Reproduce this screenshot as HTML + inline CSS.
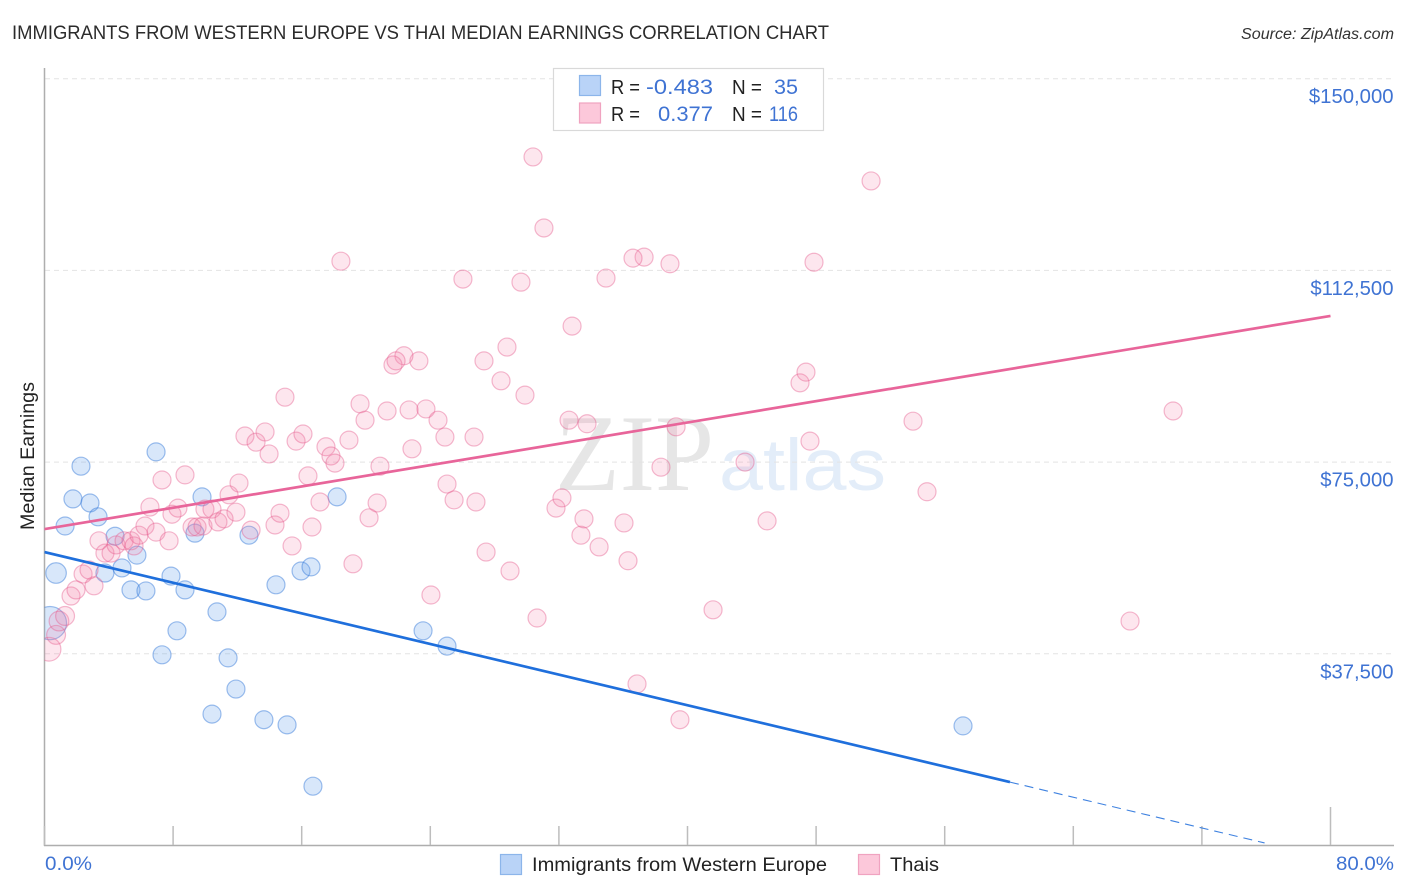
<!DOCTYPE html>
<html>
<head>
<meta charset="utf-8">
<title>Immigrants from Western Europe vs Thai Median Earnings Correlation Chart</title>
<style>
html,body{margin:0;padding:0;background:#fff;width:1406px;height:892px;overflow:hidden}
svg{display:block}
text{font-family:"Liberation Sans",sans-serif}
</style>
</head>
<body>
<svg id="chart" width="1406" height="892" viewBox="0 0 1406 892" xmlns="http://www.w3.org/2000/svg">
  <defs>
    <clipPath id="plotClip"><rect x="44.5" y="60" width="1360" height="786"/></clipPath>
  </defs>
  <text x="12" y="39" font-size="19.5" fill="#2b2b2b" textLength="817" lengthAdjust="spacingAndGlyphs">IMMIGRANTS FROM WESTERN EUROPE VS THAI MEDIAN EARNINGS CORRELATION CHART</text>
  <text x="1394" y="39" font-size="15.5" font-style="italic" fill="#333" text-anchor="end" textLength="153" lengthAdjust="spacingAndGlyphs">Source: ZipAtlas.com</text>

  <g>
    <text x="555" y="490" style="font-family:'Liberation Serif',serif" font-size="109" fill="#e6e6e6" textLength="159" lengthAdjust="spacingAndGlyphs">ZIP</text>
    <text x="719" y="490" font-size="73" fill="#e3edf9" textLength="167" lengthAdjust="spacingAndGlyphs">atlas</text>
  </g>

  <g id="grid"></g>
  <g id="axes">
    <line x1="44.5" y1="68" x2="44.5" y2="846" stroke="#aeaeae" stroke-width="1.5"/>
    <line x1="44" y1="845.5" x2="1394" y2="845.5" stroke="#aeaeae" stroke-width="1.5"/>
  </g>
  <g id="xticks"></g>
  <g id="ylabels"></g>
  <text x="45" y="870" font-size="19.5" fill="#3f73d3" textLength="47" lengthAdjust="spacingAndGlyphs">0.0%</text>
  <text x="1394" y="870" font-size="19.5" fill="#3f73d3" text-anchor="end" textLength="58" lengthAdjust="spacingAndGlyphs">80.0%</text>
  <text transform="translate(34,456) rotate(-90)" font-size="19.5" fill="#222" text-anchor="middle" textLength="148" lengthAdjust="spacingAndGlyphs">Median Earnings</text>

  <g clip-path="url(#plotClip)">
    <g id="bluePoints"></g>
    <g id="pinkPoints"></g>
    <g id="trends"></g>
  </g>

  <g>
    <rect x="553.5" y="68.5" width="270" height="62" fill="#fff" stroke="#d9d9d9" stroke-width="1.2"/>
    <rect x="579.5" y="75.5" width="21" height="20" fill="#b9d3f7" stroke="#8cb5ea" stroke-width="1.2"/>
    <rect x="579.5" y="103" width="21" height="20" fill="#fcc8da" stroke="#f0a3c0" stroke-width="1.2"/>
    <text x="611" y="94" font-size="20" fill="#222" textLength="29" lengthAdjust="spacingAndGlyphs">R =</text>
    <text x="646" y="94" font-size="21.5" fill="#3f73d3" textLength="67" lengthAdjust="spacingAndGlyphs">-0.483</text>
    <text x="732" y="94" font-size="20" fill="#222" textLength="30" lengthAdjust="spacingAndGlyphs">N =</text>
    <text x="774" y="94" font-size="21.5" fill="#3f73d3" textLength="24" lengthAdjust="spacingAndGlyphs">35</text>
    <text x="611" y="121" font-size="20" fill="#222" textLength="29" lengthAdjust="spacingAndGlyphs">R =</text>
    <text x="658" y="121" font-size="21.5" fill="#3f73d3" textLength="55" lengthAdjust="spacingAndGlyphs">0.377</text>
    <text x="732" y="121" font-size="20" fill="#222" textLength="30" lengthAdjust="spacingAndGlyphs">N =</text>
    <text x="769" y="121" font-size="21.5" fill="#3f73d3" textLength="29" lengthAdjust="spacingAndGlyphs">116</text>
  </g>

  <g>
    <rect x="500.5" y="854.5" width="21" height="20" fill="#b9d3f7" stroke="#8cb5ea" stroke-width="1.2"/>
    <text x="532" y="871" font-size="19.5" fill="#222" textLength="295" lengthAdjust="spacingAndGlyphs">Immigrants from Western Europe</text>
    <rect x="858.5" y="854.5" width="21" height="20" fill="#fcc8da" stroke="#f0a3c0" stroke-width="1.2"/>
    <text x="890" y="871" font-size="19.5" fill="#222" textLength="49" lengthAdjust="spacingAndGlyphs">Thais</text>
  </g>
</svg>
<script>
// percent of population on x, thousands of dollars on y
const yTickValues = [37.5, 75, 112.5, 150];
const yTickLabels = ["$37,500", "$75,000", "$112,500", "$150,000"];
const xTickValues = [0, 8, 16, 24, 32, 40, 48, 56, 64, 72, 80];

const blueX = [0.34,0.72,1.28,2.27,1.77,2.83,3.33,4.39,5.75,4.82,3.76,5.38,6.31,7.87,8.74,8.24,7.31,10.73,11.42,11.91,10.42,13.65,15.09,16.70,14.40,15.96,16.58,9.36,9.80,6.94,12.72,18.20,23.55,25.04,57.14];
const blueY = [43.5,53.3,62.5,74.2,67.8,67.0,64.3,60.5,56.8,54.3,53.3,50.0,49.8,52.7,50.0,42.0,37.3,45.7,36.7,30.6,25.7,24.6,23.6,11.6,51.0,53.7,54.5,61.1,68.2,77.0,60.7,68.2,42.0,39.0,23.4];
const blueWeights = [3.4,1.3];

const pinkX = [0.28,0.72,0.90,1.28,1.65,1.96,3.08,2.40,2.77,3.76,4.14,3.39,4.45,4.95,5.38,5.57,5.88,6.25,6.94,7.75,6.56,7.93,8.30,7.31,8.74,9.18,9.49,9.86,9.98,10.42,10.79,11.17,11.48,12.10,11.91,12.85,14.34,14.65,15.40,16.64,17.14,16.39,12.47,13.16,13.72,13.97,15.65,16.08,17.51,17.82,18.07,18.94,14.96,18.44,19.63,19.94,21.31,22.68,23.73,24.48,24.91,26.72,22.86,20.87,20.69,20.19,19.19,24.04,25.04,25.48,26.84,27.47,28.96,30.64,31.82,32.19,33.37,33.56,34.50,36.05,36.30,36.86,39.53,41.59,38.35,39.29,43.58,44.95,47.62,47.00,47.37,54.03,54.90,70.21,67.53,51.42,47.87,38.91,37.30,36.61,34.93,32.82,29.64,26.03,31.07,30.39,28.77,27.34,28.40,29.89,32.63,33.75,23.29,22.36,21.68,21.87];
const pinkY = [38.4,41.2,43.9,44.9,48.8,50.0,50.8,53.1,53.9,57.2,57.2,59.6,58.8,59.6,59.6,58.6,60.7,62.5,61.3,59.6,66.2,64.8,66.0,71.5,72.5,62.3,62.3,62.5,65.8,65.8,63.3,63.9,68.6,70.9,65.2,61.7,62.7,65.0,58.6,62.3,67.2,72.3,80.1,78.9,80.9,76.6,79.1,80.5,78.0,76.2,74.8,79.3,87.7,114.3,86.4,83.2,85.0,85.2,85.4,83.2,79.9,79.9,77.6,74.2,67.0,64.1,55.1,49.0,70.7,67.6,67.2,57.4,53.7,44.5,66.0,68.0,60.7,63.9,58.4,63.1,55.7,31.6,24.6,46.1,74.0,81.9,75.0,63.5,79.1,90.5,92.6,83.0,69.2,85.0,43.9,130.0,114.1,113.8,115.1,114.9,111.0,101.6,110.2,110.8,120.8,134.7,97.5,94.8,90.9,88.1,83.2,82.5,94.8,95.8,94.0,94.8];
const pinkWeights = [1.75,1.1,1.2,1.1];

const blueTrendX = [0, 60.06, 75.9];
const blueTrendY = [57.4, 12.4, 0.5];
const pinkTrendX = [0, 80];
const pinkTrendY = [61.9, 103.6];

const NS = 'http://www.w3.org/2000/svg';
const BASE_R = 9;
function xPos(v){ return 44.5 + v * 16.075; }
function yPos(v){ return 845.5 - v * 5.112; }
function make(tag, attrs){
  const el = document.createElementNS(NS, tag);
  for (const k in attrs) el.setAttribute(k, attrs[k]);
  return el;
}

const grid = document.getElementById('grid');
const ylabels = document.getElementById('ylabels');
yTickValues.forEach(function(v, i){
  const g = make('line', {x1: 45, x2: 1394, y1: yPos(v), y2: yPos(v), stroke: '#e4e4e4', 'stroke-width': 1, 'stroke-dasharray': '5 4'});
  
  
  grid.appendChild(g);
  const t = make('text', {x: 1393.5, y: yPos(v) + 24.5, 'font-size': 20.3, fill: '#3f73d3', 'text-anchor': 'end'});
  
  
  t.textContent = yTickLabels[i];
  ylabels.appendChild(t);
});

const xticks = document.getElementById('xticks');
xTickValues.forEach(function(v, i){
  const top = (i === xTickValues.length - 1) ? 807 : 826;
  const l = make('line', {x1: xPos(v), x2: xPos(v), y1: top, y2: 845, stroke: '#bdbdbd', 'stroke-width': 1.5});
  
  
  xticks.appendChild(l);
});

const blueGroup = document.getElementById('bluePoints');
blueX.forEach(function(v, i){
  const w = blueWeights[i] || 1;
  const c = make('circle', {cx: xPos(v), cy: yPos(blueY[i]), r: BASE_R * Math.sqrt(w), fill: 'rgba(98,158,235,0.25)', stroke: 'rgba(45,115,215,0.45)', 'stroke-width': 1.2});
  
  
  blueGroup.appendChild(c);
});

const pinkGroup = document.getElementById('pinkPoints');
pinkX.forEach(function(v, i){
  const w = pinkWeights[i] || 1;
  const c = make('circle', {cx: xPos(v), cy: yPos(pinkY[i]), r: BASE_R * Math.sqrt(w), fill: 'rgba(244,130,170,0.2)', stroke: 'rgba(228,90,140,0.42)', 'stroke-width': 1.2});
  
  
  pinkGroup.appendChild(c);
});

const trends = document.getElementById('trends');
const blueSolid = make('line', {x1: xPos(blueTrendX[0]), y1: yPos(blueTrendY[0]), x2: xPos(blueTrendX[1]), y2: yPos(blueTrendY[1]), stroke: '#1f6fdc', 'stroke-width': 2.7});


trends.appendChild(blueSolid);
const blueDash = make('line', {x1: xPos(blueTrendX[1]), y1: yPos(blueTrendY[1]), x2: xPos(blueTrendX[2]), y2: yPos(blueTrendY[2]), stroke: '#3f82e0', 'stroke-width': 1.1, 'stroke-dasharray': '9 6'});


trends.appendChild(blueDash);
const pinkLine = make('line', {x1: xPos(pinkTrendX[0]), y1: yPos(pinkTrendY[0]), x2: xPos(pinkTrendX[1]), y2: yPos(pinkTrendY[1]), stroke: '#e8659a', 'stroke-width': 2.7});


trends.appendChild(pinkLine);
</script>
</body>
</html>
